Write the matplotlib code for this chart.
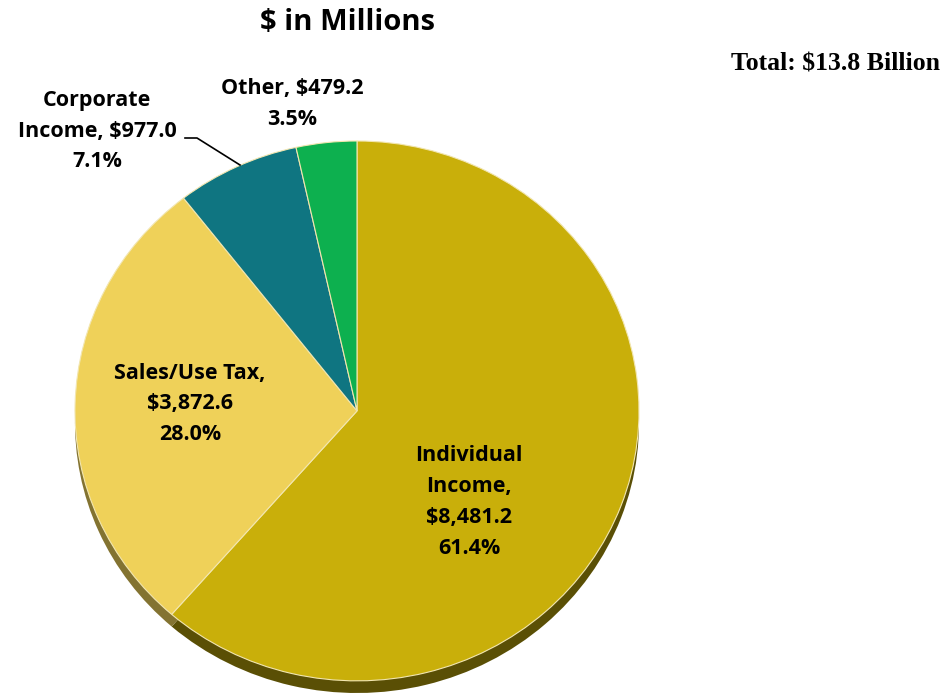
import matplotlib
matplotlib.use("Agg")
import matplotlib.pyplot as plt
from matplotlib.lines import Line2D
from matplotlib.colors import to_rgb

# revenue by source, $ in millions
sources = ["Individual Income", "Sales/Use Tax", "Corporate Income", "Other"]
amounts = [8481.2, 3872.6, 977.0, 479.2]
colors = ["#C9AF0A", "#EFD159", "#0F7581", "#0DB04F"]

total = sum(amounts)
shares = [a / total * 100 for a in amounts]

W, H = 949, 698
DEPTH = 0.045  # thickness of the disc, in radius units


def px(x, y):
    return x / W, 1 - y / H


fig = plt.figure(figsize=(W / 100, H / 100), dpi=100)
fig.patch.set_facecolor("white")

# pie sits in an axes sized to the slightly flattened ellipse
ax = fig.add_axes([75 / W, (H - 693) / H, 564 / W, 552 / H])

# side of the disc: same pie, darker and shifted down
side = [tuple(c * 0.45 for c in to_rgb(col)) for col in colors]
side[1] = tuple(c * 0.55 for c in to_rgb(colors[1]))
ax.pie(amounts, colors=side, startangle=90, counterclock=False,
       center=(0, -DEPTH), radius=1.0,
       wedgeprops=dict(linewidth=0))
ax.pie(amounts, colors=colors, startangle=90, counterclock=False,
       center=(0, 0), radius=1.0,
       wedgeprops=dict(linewidth=0.8, edgecolor="#F2E6B0"))
ax.set_aspect("auto")
ax.set_xlim(-1, 1)
ax.set_ylim(-1 - DEPTH, 1)
ax.axis("off")

label_font = dict(fontfamily="Open Sans", fontweight="bold", fontsize=15.5,
                  color="black", ha="center", va="center", linespacing=1.62)

labels = [
    f"Individual\nIncome,\n${amounts[0]:,.1f}\n{shares[0]:.1f}%",
    f"Sales/Use Tax,\n${amounts[1]:,.1f}\n{shares[1]:.1f}%",
    f"Corporate\nIncome, ${amounts[2]:,.1f}\n{shares[2]:.1f}%",
    f"Other, ${amounts[3]:,.1f}\n{shares[3]:.1f}%",
]
spots = [(469, 502), (190, 404), (97, 131), (292, 104)]
for text, (x, y) in zip(labels, spots):
    fig.text(*px(x, y), text, **label_font)

# leader line for the corporate slice
lx = [185, 197, 240]
ly = [138, 138, 165]
fig.add_artist(Line2D([x / W for x in lx], [1 - y / H for y in ly],
                      color="black", linewidth=1.2))

fig.text(*px(347, 22), "$ in Millions", fontfamily="Open Sans",
         fontweight="bold", fontsize=21, ha="center", va="center")
fig.text(*px(940, 64), f"Total: ${total / 1000:.1f} Billion",
         fontfamily="Liberation Serif", fontweight="bold", fontsize=18.5,
         ha="right", va="center")

fig.savefig("out.png", dpi=100)
